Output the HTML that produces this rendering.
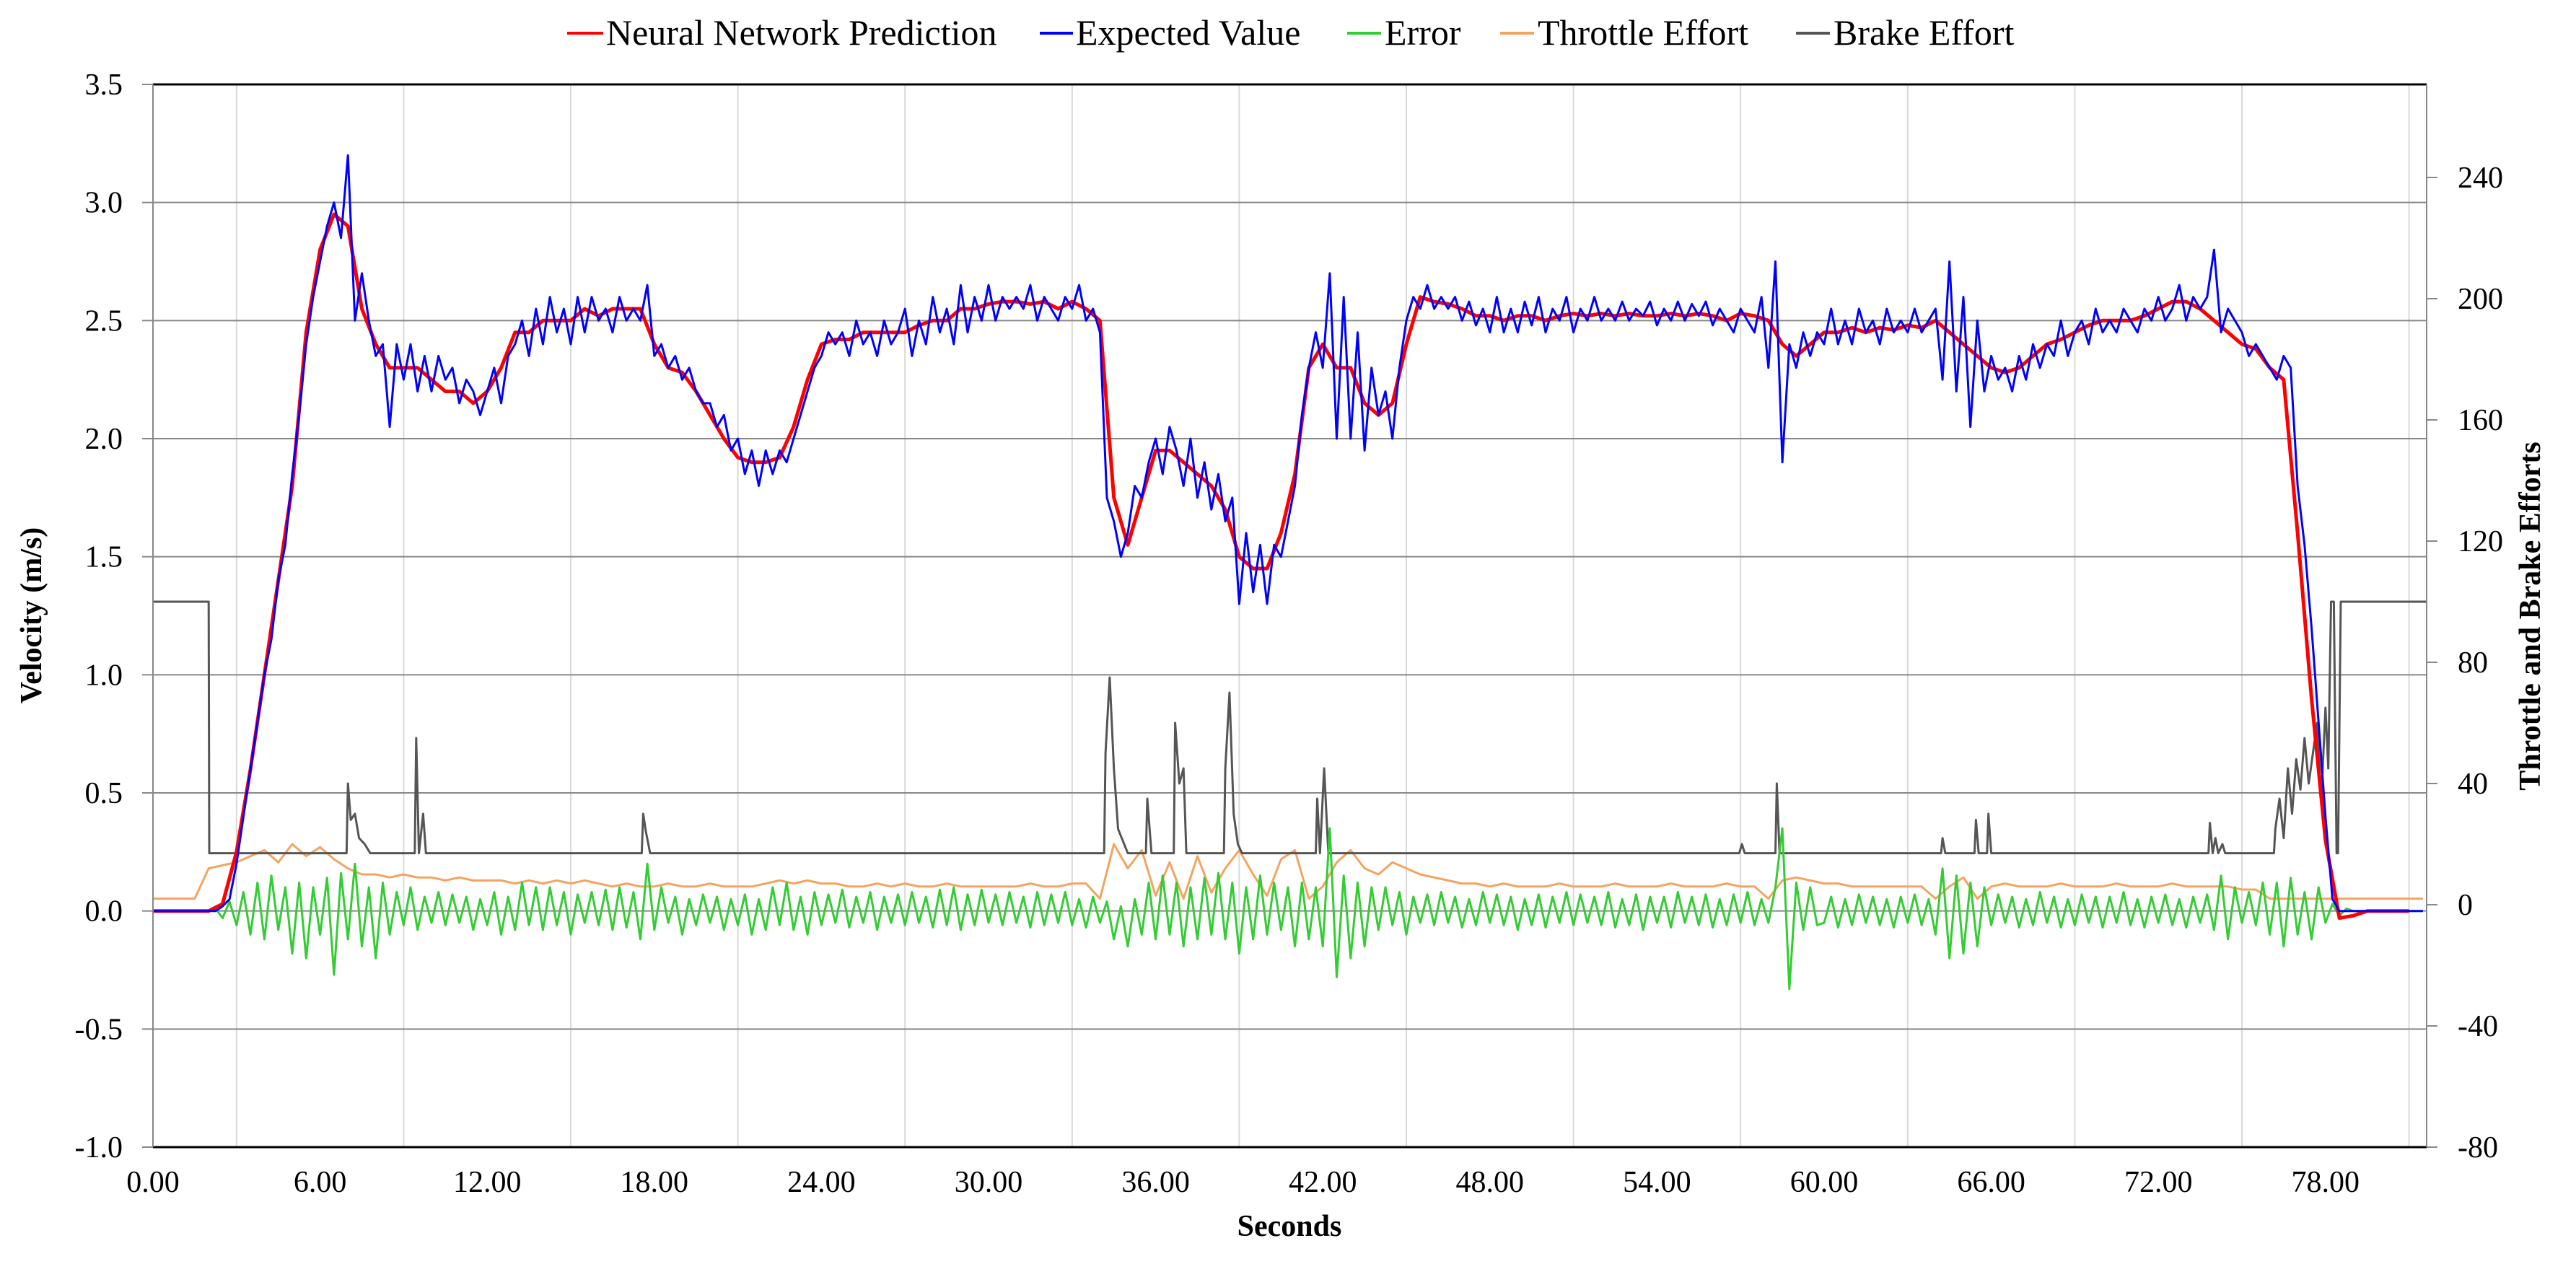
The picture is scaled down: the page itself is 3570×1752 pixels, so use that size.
<!DOCTYPE html>
<html><head><meta charset="utf-8"><style>
html,body{margin:0;padding:0;background:#fff;}
svg{display:block;font-family:"Liberation Serif",serif;}
</style></head><body>
<svg id="chart" width="3570" height="1752" viewBox="0 0 3570 1752">
<g id="grid"></g>
<g id="series"></g>
<g id="axes"></g>
<g id="legend">
  <line x1="786" y1="46" x2="836" y2="46" stroke="#ff0000" stroke-width="4"/>
  <text x="840" y="62" font-size="50">Neural Network Prediction</text>
  <line x1="1441" y1="46" x2="1487" y2="46" stroke="#0000ff" stroke-width="4"/>
  <text x="1491" y="62" font-size="50">Expected Value</text>
  <line x1="1867" y1="46" x2="1914" y2="46" stroke="#33cc33" stroke-width="4"/>
  <text x="1919" y="62" font-size="50">Error</text>
  <line x1="2079" y1="46" x2="2126" y2="46" stroke="#f4a460" stroke-width="4"/>
  <text x="2131" y="62" font-size="50">Throttle Effort</text>
  <line x1="2489" y1="46" x2="2536" y2="46" stroke="#555555" stroke-width="4"/>
  <text x="2541" y="62" font-size="50">Brake Effort</text>
</g>
<text x="57" y="853" font-size="42" font-weight="bold" text-anchor="middle" transform="rotate(-90 57 853)">Velocity (m/s)</text>
<text x="3520" y="854" font-size="42" font-weight="bold" text-anchor="middle" transform="rotate(-90 3520 854)">Throttle and Brake Efforts</text>
<text x="1787" y="1713" font-size="42" font-weight="bold" text-anchor="middle">Seconds</text>
</svg>
<script>
const xTicks = [0,6,12,18,24,30,36,42,48,54,60,66,72,78];
const xTickLabels = ["0.00","6.00","12.00","18.00","24.00","30.00","36.00","42.00","48.00","54.00","60.00","66.00","72.00","78.00"];
const yTicks = [3.5,3.0,2.5,2.0,1.5,1.0,0.5,0.0,-0.5,-1.0];
const yTickLabels = ["3.5","3.0","2.5","2.0","1.5","1.0","0.5","0.0","-0.5","-1.0"];
const y2Ticks = [240,200,160,120,80,40,0,-40,-80];
const y2TickLabels = ["240","200","160","120","80","40","0","-40","-80"];
const minorGridTimes = [3,9,15,21,27,33,39,45,51,57,63,69,75,81];

// Expected value, 0.25 s steps
const expected = [
0,0,0,0,0,0,0,0,
0,0,0.02,0.05,0.2,0.4,0.6,0.8,
1.0,1.15,1.4,1.55,1.85,2.1,2.4,2.6,
2.75,2.9,3.0,2.85,3.2,2.5,2.7,2.5,
2.35,2.4,2.05,2.4,2.25,2.4,2.2,2.35,
2.2,2.35,2.25,2.3,2.15,2.25,2.2,2.1,
2.2,2.3,2.15,2.35,2.4,2.5,2.35,2.55,
2.4,2.6,2.45,2.55,2.4,2.6,2.45,2.6,
2.5,2.55,2.45,2.6,2.5,2.55,2.5,2.65,
2.35,2.4,2.3,2.35,2.25,2.3,2.2,2.15,
2.15,2.05,2.1,1.95,2.0,1.85,1.95,1.8,
1.95,1.85,1.95,1.9,2.0,2.1,2.2,2.3,
2.35,2.45,2.4,2.45,2.35,2.5,2.4,2.45,
2.35,2.5,2.4,2.45,2.55,2.35,2.5,2.4,
2.6,2.45,2.55,2.4,2.65,2.45,2.6,2.5,
2.65,2.5,2.6,2.55,2.6,2.55,2.65,2.5,
2.6,2.55,2.5,2.6,2.55,2.65,2.5,2.55,
2.45,1.75,1.65,1.5,1.6,1.8,1.75,1.9,
2.0,1.85,2.05,1.95,1.8,2.0,1.75,1.9,
1.7,1.85,1.65,1.75,1.3,1.6,1.35,1.55,
1.3,1.55,1.5,1.65,1.8,2.1,2.3,2.45,
2.3,2.7,2.0,2.6,2.0,2.45,1.95,2.3,
2.1,2.2,2.0,2.3,2.5,2.6,2.55,2.65,
2.55,2.6,2.55,2.6,2.5,2.58,2.48,2.55,
2.45,2.6,2.45,2.55,2.45,2.58,2.48,2.6,
2.45,2.55,2.5,2.6,2.45,2.55,2.5,2.6,
2.5,2.55,2.5,2.58,2.5,2.55,2.52,2.58,
2.48,2.55,2.5,2.58,2.5,2.57,2.52,2.58,
2.48,2.55,2.5,2.45,2.55,2.5,2.45,2.6,
2.3,2.75,1.9,2.4,2.3,2.45,2.35,2.45,
2.4,2.55,2.4,2.5,2.4,2.55,2.45,2.5,
2.4,2.55,2.45,2.5,2.45,2.55,2.45,2.5,
2.55,2.25,2.75,2.2,2.6,2.05,2.5,2.2,
2.35,2.25,2.3,2.2,2.35,2.25,2.4,2.3,
2.4,2.35,2.5,2.35,2.45,2.5,2.4,2.55,
2.45,2.5,2.45,2.55,2.5,2.45,2.55,2.5,
2.6,2.5,2.55,2.65,2.5,2.6,2.55,2.6,
2.8,2.45,2.55,2.5,2.45,2.35,2.4,2.35,
2.3,2.25,2.35,2.3,1.8,1.55,1.2,0.8,
0.4,0.05,0.0,0.0,0.0,0.0,0.0,0.0,
0,0,0,0,0,0,0
];

// Neural network prediction, 0.5 s steps
const prediction = [
0,0,0,0,
0,0.03,0.25,0.6,
1.0,1.4,1.8,2.45,
2.8,2.95,2.9,2.55,
2.4,2.3,2.3,2.3,
2.25,2.2,2.2,2.15,
2.2,2.3,2.45,2.45,
2.5,2.5,2.5,2.55,
2.52,2.55,2.55,2.55,
2.4,2.3,2.28,2.2,
2.1,2.0,1.92,1.9,
1.9,1.92,2.05,2.25,
2.4,2.42,2.42,2.45,
2.45,2.45,2.45,2.48,
2.5,2.5,2.55,2.55,
2.57,2.58,2.58,2.57,
2.58,2.55,2.58,2.55,
2.5,1.75,1.55,1.75,
1.95,1.95,1.9,1.85,
1.8,1.7,1.5,1.45,
1.45,1.6,1.85,2.3,
2.4,2.3,2.3,2.15,
2.1,2.15,2.4,2.6,
2.58,2.57,2.55,2.52,
2.52,2.5,2.52,2.52,
2.5,2.52,2.53,2.52,
2.53,2.52,2.53,2.52,
2.52,2.53,2.52,2.53,
2.52,2.5,2.53,2.52,
2.5,2.4,2.35,2.4,
2.45,2.45,2.47,2.45,
2.47,2.46,2.48,2.47,
2.5,2.45,2.4,2.35,
2.3,2.28,2.3,2.35,
2.4,2.42,2.45,2.48,
2.5,2.5,2.5,2.52,
2.55,2.58,2.58,2.55,
2.5,2.45,2.4,2.38,
2.3,2.25,1.6,0.9,
0.3,-0.03,-0.02,0,
0,0,0
];

// Error, 0.25 s steps
const errorVals = [
0,0,0,0,0,0,0,0,
0,0.01,-0.03,0.04,-0.06,0.08,-0.1,0.12,
-0.12,0.15,-0.08,0.1,-0.18,0.12,-0.2,0.1,
-0.1,0.14,-0.27,0.16,-0.12,0.2,-0.15,0.1,
-0.2,0.12,-0.1,0.08,-0.06,0.1,-0.08,0.06,
-0.05,0.08,-0.06,0.07,-0.05,0.06,-0.08,0.05,
-0.06,0.08,-0.1,0.06,-0.08,0.12,-0.06,0.1,
-0.08,0.1,-0.06,0.08,-0.1,0.07,-0.05,0.08,
-0.06,0.09,-0.08,0.1,-0.07,0.08,-0.12,0.2,
-0.08,0.1,-0.05,0.06,-0.1,0.05,-0.06,0.07,
-0.05,0.06,-0.08,0.05,-0.06,0.07,-0.1,0.05,
-0.08,0.1,-0.06,0.12,-0.08,0.06,-0.1,0.08,
-0.06,0.07,-0.05,0.09,-0.07,0.06,-0.05,0.08,
-0.08,0.06,-0.05,0.07,-0.06,0.08,-0.05,0.06,
-0.07,0.09,-0.06,0.1,-0.08,0.07,-0.06,0.09,
-0.05,0.07,-0.06,0.08,-0.05,0.06,-0.07,0.08,
-0.06,0.07,-0.05,0.08,-0.06,0.05,-0.07,0.06,
-0.05,0.04,-0.12,0.02,-0.15,0.05,-0.1,0.12,
-0.12,0.15,-0.1,0.12,-0.15,0.1,-0.12,0.14,
-0.1,0.16,-0.12,0.12,-0.18,0.1,-0.12,0.15,
-0.1,0.12,-0.08,0.1,-0.15,0.12,-0.12,0.1,
-0.15,0.35,-0.28,0.15,-0.2,0.12,-0.15,0.1,
-0.08,0.1,-0.06,0.08,-0.1,0.06,-0.05,0.07,
-0.06,0.08,-0.05,0.06,-0.07,0.05,-0.06,0.08,
-0.05,0.07,-0.06,0.06,-0.08,0.05,-0.06,0.07,
-0.07,0.06,-0.05,0.08,-0.06,0.07,-0.05,0.06,
-0.06,0.08,-0.07,0.05,-0.06,0.07,-0.08,0.06,
-0.05,0.06,-0.07,0.08,-0.05,0.06,-0.06,0.07,
-0.07,0.05,-0.06,0.07,-0.05,0.08,-0.06,0.05,
-0.05,0.1,0.35,-0.33,0.12,-0.08,0.1,-0.06,
-0.05,0.06,-0.07,0.05,-0.06,0.07,-0.05,0.06,
-0.06,0.05,-0.07,0.06,-0.05,0.07,-0.06,0.05,
-0.1,0.18,-0.2,0.15,-0.18,0.12,-0.15,0.1,
-0.06,0.07,-0.05,0.06,-0.07,0.05,-0.06,0.08,
-0.05,0.06,-0.07,0.05,-0.06,0.07,-0.05,0.06,
-0.07,0.06,-0.05,0.08,-0.06,0.05,-0.07,0.06,
-0.05,0.07,-0.06,0.05,-0.07,0.06,-0.05,0.07,
-0.08,0.15,-0.12,0.1,-0.05,0.08,-0.06,0.12,
-0.1,0.12,-0.15,0.14,-0.1,0.08,-0.12,0.1,
-0.05,0.03,-0.02,0.01,0,0,0,0,
0,0,0,0,0,0,0
];

// Throttle effort (right axis), 0.5 s steps
const throttle = [
2,2,2,2,
12,13,14,16,
18,14,20,16,
19,15,12,10,
10,9,10,9,
9,8,9,8,
8,8,7,8,
7,8,7,8,
7,6,7,6,
6,7,6,6,
7,6,6,6,
7,8,7,8,
7,7,6,6,
7,6,7,6,
6,7,6,6,
6,6,6,7,
6,6,7,7,
2,20,12,18,
3,14,2,16,
4,12,18,10,
3,15,18,2,
6,14,18,12,
10,14,12,10,
9,8,7,7,
6,7,6,6,6,7,6,6,6,7,6,6,6,7,6,6,6,7,6,6,
2,8,9,8,
7,7,6,6,6,6,6,6,
2,6,9,2,
6,7,6,6,6,7,6,6,6,7,6,6,6,7,6,6,6,6,5,5,
2,2,2,2,2,2,2,2,2,2,2,2
];

// Brake effort (right axis): times and values
const brakeT = [0,2.0,2.02,
6.95,7.0,7.1,7.25,7.4,7.6,7.8,
9.4,9.45,9.55,9.7,9.8,
17.55,17.6,17.7,17.85,
34.15,34.2,34.35,34.5,34.65,35.0,
35.65,35.7,35.85,
36.65,36.7,36.85,37.0,37.1,
38.45,38.5,38.65,38.8,38.95,39.1,
41.75,41.8,41.9,42.05,42.2,
56.95,57.05,57.15,
58.25,58.3,58.4,
64.2,64.25,64.35,
65.4,65.45,65.55,65.85,65.9,66.0,
73.8,73.85,73.95,74.05,74.15,74.3,74.4,
76.15,76.2,76.35,76.5,76.65,76.8,76.95,77.1,77.25,77.4,77.55,77.7,77.85,78.0,78.1,78.2,78.3,78.4,78.45,78.55,78.6,81.63];
const brakeV = [100,100,17,
17,40,28,30,22,20,17,
17,55,17,30,17,
17,30,24,17,
17,50,75,45,25,17,
17,35,17,
17,60,40,45,17,
17,45,70,30,20,17,
17,35,17,45,17,
17,20,17,
17,40,17,
17,22,17,
17,28,17,17,30,17,
17,27,17,22,17,20,17,
17,25,35,22,45,30,48,38,55,40,50,60,35,65,45,100,100,17,17,100,100,100];

const NS = "http://www.w3.org/2000/svg";
const L = 212, R = 3363, T = 117, B = 1590;
const X = t => L + t * 38.6;
const YL = v => T + (3.5 - v) * ((B - T) / 4.5);
const YR = r => B - (r + 80) * 4.2;

function mk(parent, tag, attrs, txt) {
  const el = document.createElementNS(NS, tag);
  for (const k in attrs) el.setAttribute(k, attrs[k]);
  if (txt !== undefined) el.textContent = txt;
  parent.appendChild(el);
  return el;
}
const grid = document.getElementById('grid');
const axes = document.getElementById('axes');
const series = document.getElementById('series');

minorGridTimes.forEach(t => {
  const g = mk(grid, 'line', {x1: X(t), x2: X(t), y1: T, y2: B, stroke: '#d9d9d9', 'stroke-width': 2});
  
  
});
yTicks.forEach((v, i) => {
  const y = YL(v);
  const edge = (i === 0 || i === yTicks.length - 1);
  const g = mk(grid, 'line', {x1: L, x2: R, y1: y, y2: y, stroke: edge ? '#000' : '#888', 'stroke-width': edge ? 3 : 2});
  
  
  const tk = mk(axes, 'line', {x1: L - 15, x2: L, y1: y, y2: y, stroke: '#888', 'stroke-width': 2});
  
  
  const lb = mk(axes, 'text', {x: 170, y: y + 14, 'font-size': 42, 'text-anchor': 'end'}, yTickLabels[i]);
  
  
});
y2Ticks.forEach((r, i) => {
  const y = YR(r);
  const tk = mk(axes, 'line', {x1: R, x2: R + 15, y1: y, y2: y, stroke: '#888', 'stroke-width': 2});
  
  
  const lb = mk(axes, 'text', {x: 3406, y: y + 14, 'font-size': 42}, y2TickLabels[i]);
  
  
});
xTicks.forEach((t, i) => {
  const lb = mk(axes, 'text', {x: X(t), y: 1652, 'font-size': 42, 'text-anchor': 'middle'}, xTickLabels[i]);
  
  
});
const la = mk(axes, 'line', {x1: L, x2: L, y1: T, y2: B, stroke: '#888', 'stroke-width': 2});


const ra = mk(axes, 'line', {x1: R, x2: R, y1: T, y2: B, stroke: '#888', 'stroke-width': 2});



function path(pts, color, w, name) {
  const d = pts.map((p, i) => (i ? 'L' : 'M') + p[0].toFixed(1) + ' ' + p[1].toFixed(1)).join('');
  const el = mk(series, 'path', {d: d, fill: 'none', stroke: color, 'stroke-width': w, 'stroke-linejoin': 'round'});
  
  
}
path(throttle.map((v, i) => [X(i * 0.5), YR(v)]), '#f4a460', 3, 'throttle-effort-line');
path(brakeT.map((t, i) => [X(t), YR(brakeV[i])]), '#555555', 3, 'brake-effort-line');
path(errorVals.map((v, i) => [X(i * 0.25), YL(v)]), '#33cc33', 3, 'error-line');
path(prediction.map((v, i) => [X(i * 0.5), YL(v)]), '#ff0000', 5, 'prediction-line');
path(expected.map((v, i) => [X(i * 0.25), YL(v)]), '#0000ff', 3, 'expected-line');
</script>
</body></html>
